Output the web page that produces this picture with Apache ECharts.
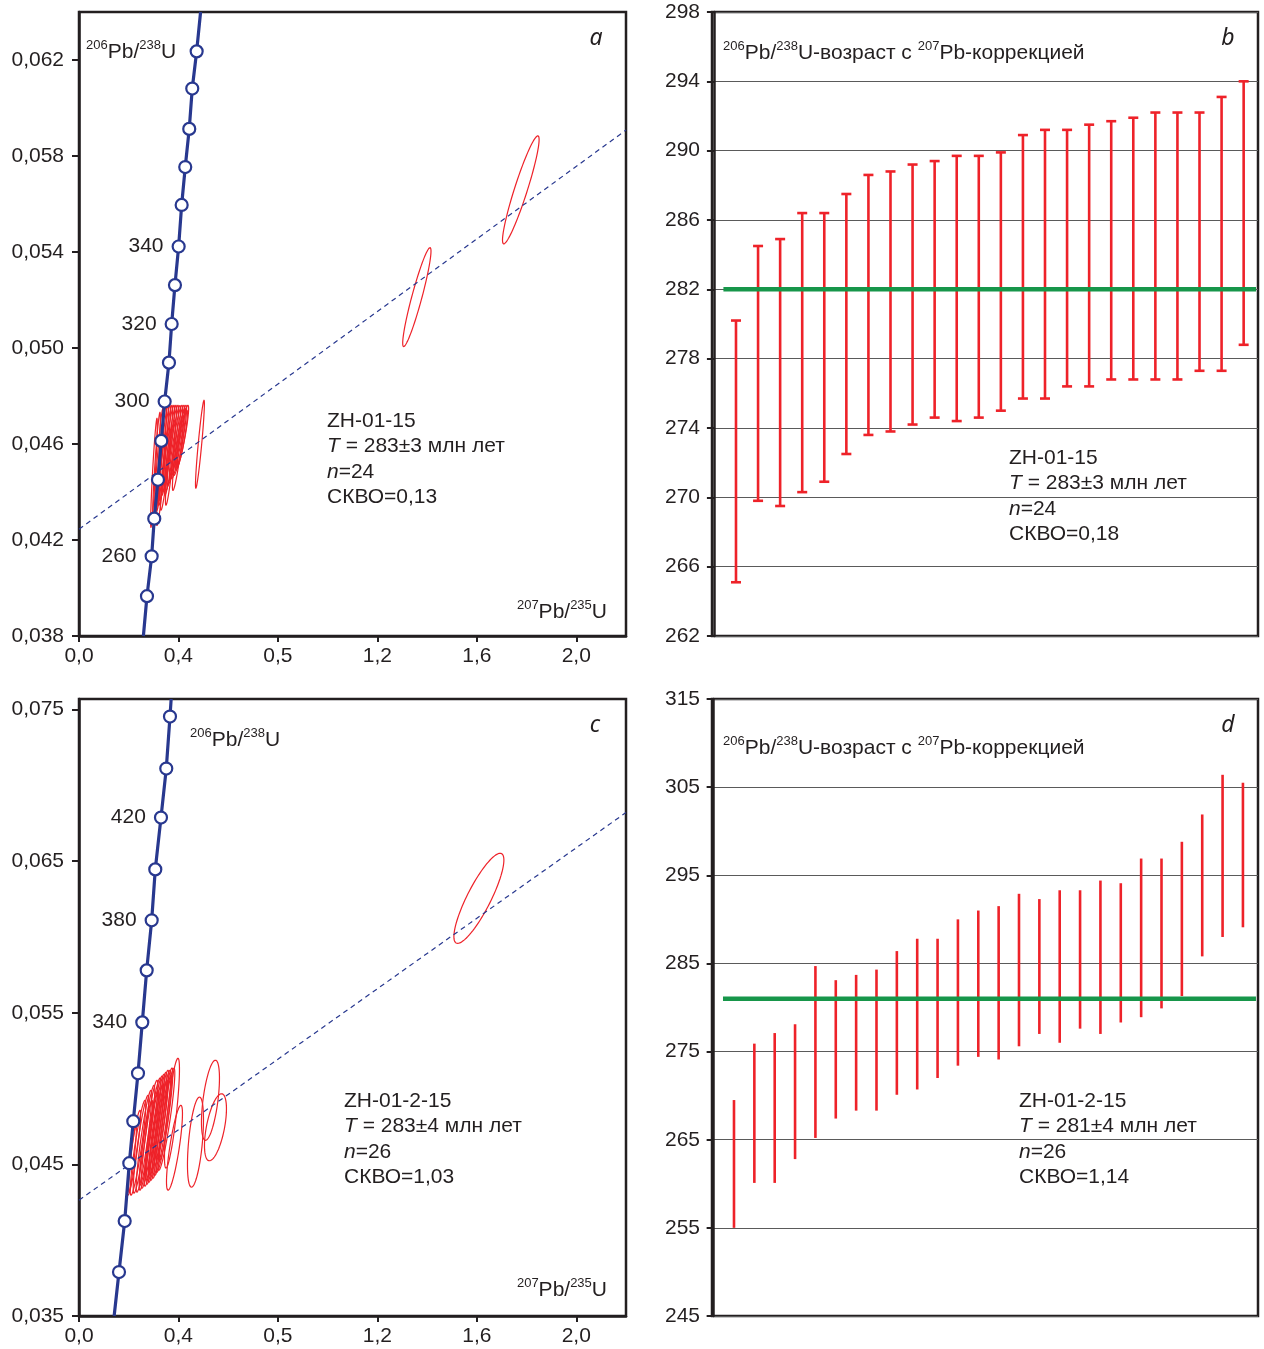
<!DOCTYPE html>
<html><head><meta charset="utf-8">
<script src="https://cdn.jsdelivr.net/npm/echarts@6/dist/echarts.min.js"></script>
<style>html,body{margin:0;padding:0;background:#fff}#chart{width:1264px;height:1349px}</style>
</head><body><div id="chart"></div>
<script>
// ===================== DATA =====================
// x tick labels as printed on the concordia diagrams (same strings in a and c)
const xTickLabels = ['0,0', '0,4', '0,5', '1,2', '1,6', '2,0'];
const xTickValuesA = [0, 0.4, 0.8, 1.2, 1.6, 2.0];
const xTickValuesC = [0, 0.6, 1.2, 1.8, 2.4, 3.0];
const yTickValuesA = [0.038, 0.042, 0.046, 0.050, 0.054, 0.058, 0.062];
const yTickValuesC = [0.035, 0.045, 0.055, 0.065, 0.075];

// Panel a: concordia markers (Ma, 207Pb/235U, 206Pb/238U)
const concAAge = [250, 260, 270, 280, 290, 300, 310, 320, 330, 340, 350, 360, 370, 380, 390];
const concAX = [0.2734, 0.2922, 0.3027, 0.3176, 0.3309, 0.3445, 0.3618, 0.3727, 0.3859, 0.4008, 0.4129, 0.4273, 0.4434, 0.4555, 0.4732];
const concAY = [0.03966, 0.04132, 0.04289, 0.04451, 0.04613, 0.04777, 0.04939, 0.05100, 0.05262, 0.05423, 0.05596, 0.05754, 0.05913, 0.06081, 0.06236];
const concALabelAges = [260, 300, 320, 340];
const concAEnds = [[0.259, 0.038], [0.489, 0.064]];
const discordiaA = [[0, 0.04245], [2.2, 0.05908]];
// ellipses: [centre 207/235, centre 206/238, half-width x, half-height y, rho]
const ellipsesA = [
  [0.3015, 0.04480, 0.0134, 0.00227, 0.9],
  [0.3116, 0.04507, 0.0156, 0.00225, 0.9],
  [0.3216, 0.04526, 0.0179, 0.00223, 0.9],
  [0.3317, 0.04540, 0.0201, 0.00216, 0.9],
  [0.3397, 0.04553, 0.0201, 0.00208, 0.9],
  [0.3457, 0.04563, 0.0223, 0.00198, 0.9],
  [0.3538, 0.04574, 0.0223, 0.00187, 0.9],
  [0.3598, 0.04584, 0.0246, 0.00177, 0.9],
  [0.3678, 0.04574, 0.0246, 0.00187, 0.9],
  [0.3739, 0.04584, 0.0268, 0.00177, 0.9],
  [0.3819, 0.04594, 0.0268, 0.00166, 0.9],
  [0.3899, 0.04605, 0.0268, 0.00156, 0.9],
  [0.3980, 0.04609, 0.0268, 0.00152, 0.9],
  [0.4060, 0.04615, 0.0268, 0.00146, 0.9],
  [0.4141, 0.04626, 0.0268, 0.00135, 0.9],
  [0.3678, 0.04522, 0.0201, 0.00177, 0.9],
  [0.3477, 0.04490, 0.0201, 0.00166, 0.9],
  [0.3980, 0.04563, 0.0223, 0.00156, 0.9],
  [0.3296, 0.04438, 0.0179, 0.00177, 0.9],
  [0.4161, 0.04626, 0.0201, 0.00114, 0.9],
  [0.4101, 0.04624, 0.0179, 0.00125, 0.9],
  [0.4864, 0.04599, 0.0179, 0.00183, 0.92],
  [1.3588, 0.05212, 0.0569, 0.00206, 0.93],
  [1.7769, 0.05659, 0.0736, 0.00225, 0.93]
];

// Panel c
const concCAge = [240, 260, 280, 300, 320, 340, 360, 380, 400, 420, 440, 460];
const concCX = [0.2413, 0.2756, 0.3034, 0.3275, 0.3559, 0.3818, 0.4083, 0.4385, 0.4602, 0.4946, 0.5265, 0.5489];
const concCY = [0.03790, 0.04126, 0.04508, 0.04785, 0.05101, 0.05437, 0.05780, 0.06110, 0.06446, 0.06788, 0.07111, 0.07454];
const concCLabelAges = [340, 380, 420];
const concCEnds = [[0.212, 0.035], [0.556, 0.0757]];
const discordiaC = [[0, 0.04264], [3.3, 0.06821]];
const ellipsesC = [
  [0.3317, 0.04577, 0.0402, 0.00280, 0.9],
  [0.3559, 0.04610, 0.0469, 0.00313, 0.9],
  [0.3739, 0.04633, 0.0469, 0.00323, 0.9],
  [0.3920, 0.04653, 0.0469, 0.00336, 0.9],
  [0.4101, 0.04676, 0.0469, 0.00346, 0.9],
  [0.4252, 0.04699, 0.0503, 0.00356, 0.9],
  [0.4433, 0.04713, 0.0503, 0.00356, 0.9],
  [0.4554, 0.04726, 0.0503, 0.00356, 0.9],
  [0.4674, 0.04739, 0.0503, 0.00356, 0.9],
  [0.4795, 0.04752, 0.0503, 0.00356, 0.9],
  [0.4915, 0.04765, 0.0503, 0.00356, 0.9],
  [0.5036, 0.04775, 0.0503, 0.00346, 0.9],
  [0.5157, 0.04792, 0.0503, 0.00343, 0.9],
  [0.5277, 0.04798, 0.0503, 0.00336, 0.9],
  [0.4403, 0.04693, 0.0402, 0.00297, 0.9],
  [0.4674, 0.04726, 0.0436, 0.00297, 0.9],
  [0.4041, 0.04643, 0.0402, 0.00280, 0.9],
  [0.4946, 0.04775, 0.0402, 0.00280, 0.9],
  [0.3227, 0.04538, 0.0235, 0.00221, 0.9],
  [0.5217, 0.04808, 0.0368, 0.00280, 0.9],
  [0.5609, 0.04838, 0.0452, 0.00362, 0.8],
  [0.5760, 0.04610, 0.0482, 0.00280, 0.8],
  [0.7027, 0.04647, 0.0483, 0.00297, 0.5],
  [0.7931, 0.04923, 0.0543, 0.00264, 0.55],
  [0.8233, 0.04745, 0.0663, 0.00221, 0.55],
  [2.4125, 0.06255, 0.1508, 0.00297, 0.85]
];

// Panel b: 206Pb/238U ages with 207Pb correction (Ma), error bar limits
const bLow  = [265.1, 269.8, 269.5, 270.3, 270.9, 272.5, 273.6, 273.8, 274.2, 274.6, 274.4, 274.6, 275.0, 275.7, 275.7, 276.4, 276.4, 276.8, 276.8, 276.8, 276.8, 277.3, 277.3, 278.8];
const bHigh = [280.2, 284.5, 284.9, 286.4, 286.4, 287.5, 288.6, 288.8, 289.2, 289.4, 289.7, 289.7, 289.9, 290.9, 291.2, 291.2, 291.5, 291.7, 291.9, 292.2, 292.2, 292.2, 293.1, 294.0];
const bMean = 282;
const bMeanSpan = [0.43, 24.56];

// Panel d
const dLow  = [255.0, 260.1, 260.1, 262.8, 265.2, 267.4, 268.3, 268.3, 270.1, 270.7, 272.0, 273.4, 274.4, 274.1, 275.6, 277.0, 276.0, 277.6, 277.0, 278.3, 278.9, 279.9, 281.3, 285.8, 288.0, 289.1];
const dHigh = [269.5, 275.9, 277.1, 278.1, 284.7, 283.1, 283.7, 284.3, 286.4, 287.8, 287.8, 290.0, 291.0, 291.5, 292.9, 292.3, 293.3, 293.3, 294.4, 294.1, 296.9, 296.9, 298.8, 301.9, 306.4, 305.5];
const dMean = 281;
const dMeanSpan = [0.46, 26.64];

// ===================== STYLE =====================
const FONT = "'Liberation Sans', Arial, Helvetica, sans-serif";
const INK = '#231f20';
const BLUE = '#28388f';
const RED = '#ee2229';
const GREEN = '#17964a';

function fmtX(ticks) {
  return function (v) {
    for (let i = 0; i < ticks.length; i++) if (Math.abs(ticks[i] - v) < 1e-9) return xTickLabels[i];
    return '';
  };
}
function fmtY(ticks) {
  return function (v) {
    for (let i = 0; i < ticks.length; i++) if (Math.abs(ticks[i] - v) < 1e-9) return v.toFixed(3).replace('.', ',');
    return '';
  };
}

function ellipseRender(params, api) {
  const cx = api.value(0), cy = api.value(1), sx = api.value(2), sy = api.value(3), r = api.value(4);
  const s = Math.sqrt(1 - r * r);
  const pts = [];
  const N = 90;
  for (let k = 0; k < N; k++) {
    const t = k / N * Math.PI * 2;
    pts.push(api.coord([cx + sx * Math.cos(t), cy + sy * (r * Math.cos(t) + s * Math.sin(t))]));
  }
  return { type: 'polygon', shape: { points: pts }, style: { fill: 'none', stroke: RED, lineWidth: 1.2 } };
}
function errRender(cap) {
  return function (params, api) {
    const x = api.value(0), lo = api.value(1), hi = api.value(2);
    const p1 = api.coord([x, lo]), p2 = api.coord([x, hi]);
    const st = { stroke: RED, lineWidth: 2.6 };
    const ch = [{ type: 'line', shape: { x1: p1[0], y1: p1[1], x2: p2[0], y2: p2[1] }, style: st }];
    if (cap) {
      ch.push({ type: 'line', shape: { x1: p1[0] - cap / 2, y1: p1[1], x2: p1[0] + cap / 2, y2: p1[1] }, style: st });
      ch.push({ type: 'line', shape: { x1: p2[0] - cap / 2, y1: p2[1], x2: p2[0] + cap / 2, y2: p2[1] }, style: st });
    }
    return { type: 'group', children: ch };
  };
}

const gridBase = { show: true, borderColor: INK, borderWidth: 2.5, containLabel: false, outerBoundsMode: 'none', backgroundColor: 'transparent' };
const axisLineSt = { show: true, lineStyle: { color: INK, width: 2.5 } };
const labelSt = { fontSize: 21, fontFamily: FONT, color: INK };

function concXAxis(idx, max, interval, ticks) {
  return {
    gridIndex: idx, type: 'value', min: 0, max: max, interval: interval,
    axisLine: axisLineSt,
    axisTick: { show: true, inside: false, length: 6, lineStyle: { color: INK, width: 2 }, customValues: ticks },
    axisLabel: Object.assign({ margin: 10, formatter: fmtX(ticks), customValues: ticks }, labelSt),
    splitLine: { show: false }
  };
}
function concYAxis(idx, min, max, interval, ticks) {
  return {
    gridIndex: idx, type: 'value', min: min, max: max, interval: interval,
    axisLine: axisLineSt,
    axisTick: { show: true, inside: false, length: 7, lineStyle: { color: INK, width: 2 }, customValues: ticks },
    axisLabel: Object.assign({ margin: 15, formatter: fmtY(ticks), customValues: ticks }, labelSt),
    splitLine: { show: false }
  };
}
function ageYAxis(idx, min, max, interval) {
  return {
    gridIndex: idx, type: 'value', min: min, max: max, interval: interval,
    axisLine: axisLineSt,
    axisTick: { show: true, inside: false, length: 7, lineStyle: { color: INK, width: 2 } },
    axisLabel: Object.assign({ margin: 12, formatter: v => String(Math.round(v)) }, labelSt),
    splitLine: { show: true, lineStyle: { color: '#5a5a5a', width: 1.2 } }
  };
}
function hiddenX(idx, min, max) {
  return { gridIndex: idx, type: 'value', min: min, max: max, show: false, splitLine: { show: false } };
}

function concSeries(axisIdx, xs, ys, ages, labelAges, ends, disc, ells) {
  const pts = xs.map((x, i) => [x, ys[i], ages[i]]);
  const linePts = [ends[0]].concat(pts.map(p => [p[0], p[1]])).concat([ends[1]]);
  return [
    { type: 'custom', xAxisIndex: axisIdx, yAxisIndex: axisIdx, renderItem: ellipseRender, data: ells, clip: true, z: 2, silent: true },
    { type: 'line', xAxisIndex: axisIdx, yAxisIndex: axisIdx, data: disc, symbol: 'none', z: 3, silent: true,
      lineStyle: { color: BLUE, width: 1.2, type: [5, 4] } },
    { type: 'line', xAxisIndex: axisIdx, yAxisIndex: axisIdx, data: linePts, symbol: 'none', z: 4, silent: true,
      lineStyle: { color: BLUE, width: 3.2 } },
    { type: 'scatter', xAxisIndex: axisIdx, yAxisIndex: axisIdx, data: pts, symbol: 'circle', symbolSize: 12, z: 5, silent: true,
      itemStyle: { color: '#ffffff', borderColor: BLUE, borderWidth: 2.2, opacity: 1 },
      label: { show: true, position: 'left', distance: 8, fontSize: 21, fontFamily: FONT, color: INK, opacity: 1,
        formatter: p => labelAges.indexOf(p.value[2]) >= 0 ? String(p.value[2]) : '' } }
  ];
}
function ageSeries(axisIdx, low, high, mean, span, cap) {
  const data = low.map((v, i) => [i + 1, v, high[i]]);
  return [
    { type: 'custom', xAxisIndex: axisIdx, yAxisIndex: axisIdx, renderItem: errRender(cap), data: data, z: 3, silent: true },
    { type: 'line', xAxisIndex: axisIdx, yAxisIndex: axisIdx, data: [[span[0], mean], [span[1], mean]], symbol: 'none', z: 4, silent: true,
      lineStyle: { color: GREEN, width: 4.5 } }
  ];
}

// rich text helpers
const richBase = {
  m: { fontSize: 21, fontFamily: FONT, fill: INK, lineHeight: 25.5 },
  i: { fontSize: 21, fontFamily: FONT, fill: INK, lineHeight: 25.5, fontStyle: 'italic' },
  s: { fontSize: 13, fontFamily: FONT, fill: INK, lineHeight: 14, verticalAlign: 'top' }
};
function txt(x, y, text, align, vAlign) {
  return { type: 'text', x: x, y: y, z: 100, silent: true,
    style: { text: text, rich: richBase, align: align || 'left', verticalAlign: vAlign || 'middle', fontSize: 21, fontFamily: FONT, fill: INK } };
}
function letter(x, y, l) {
  return { type: 'text', x: x, y: y, z: 100, silent: true,
    style: { text: l, fontSize: 23, fontFamily: "'Noto Sans', 'Open Sans', sans-serif", fontStyle: 'italic', fill: INK, align: 'center', verticalAlign: 'middle' } };
}
function block(x, yTop, name, age, n, mswd) {
  return txt(x, yTop, '{m|' + name + '}\n{i|T}{m| = ' + age + ' млн лет}\n{i|n}{m|=' + n + '}\n{m|СКВО=' + mswd + '}', 'left', 'top');
}
const ratio206 = '{s|206}{m|Pb/}{s|238}{m|U}';
const ratio207 = '{s|207}{m|Pb/}{s|235}{m|U}';
const ageHeader = '{s|206}{m|Pb/}{s|238}{m|U-возраст с }{s|207}{m|Pb-коррекцией}';

const option = {
  animation: false,
  backgroundColor: '#ffffff',
  grid: [
    Object.assign({ left: 79, top: 12, width: 547, height: 624 }, gridBase),
    Object.assign({ left: 712, top: 12, width: 546, height: 624 }, gridBase),
    Object.assign({ left: 79, top: 699, width: 547, height: 617 }, gridBase),
    Object.assign({ left: 712, top: 699, width: 546, height: 617 }, gridBase)
  ],
  xAxis: [
    concXAxis(0, 2.2, 0.4, xTickValuesA),
    hiddenX(1, -0.087, 24.65),
    concXAxis(2, 3.3, 0.6, xTickValuesC),
    hiddenX(3, -0.08, 26.74)
  ],
  yAxis: [
    concYAxis(0, 0.038, 0.064, 0.004, yTickValuesA),
    ageYAxis(1, 262, 298, 4),
    concYAxis(2, 0.035, 0.0757, 0.01, yTickValuesC),
    ageYAxis(3, 245, 315, 10)
  ],
  series: []
    .concat(concSeries(0, concAX, concAY, concAAge, concALabelAges, concAEnds, discordiaA, ellipsesA))
    .concat(ageSeries(1, bLow, bHigh, bMean, bMeanSpan, 10))
    .concat(concSeries(2, concCX, concCY, concCAge, concCLabelAges, concCEnds, discordiaC, ellipsesC))
    .concat(ageSeries(3, dLow, dHigh, dMean, dMeanSpan, 0)),
  graphic: [
    txt(86, 52, ratio206),
    txt(607, 612, ratio207, 'right'),
    letter(596, 38, 'a'),
    block(327, 408, 'ZH-01-15', '283±3', '24', '0,13'),
    txt(723, 53, ageHeader),
    letter(1228, 38, 'b'),
    block(1009, 445, 'ZH-01-15', '283±3', '24', '0,18'),
    txt(190, 740, ratio206),
    txt(607, 1290, ratio207, 'right'),
    letter(595, 725, 'c'),
    block(344, 1088, 'ZH-01-2-15', '283±4', '26', '1,03'),
    txt(723, 748, ageHeader),
    letter(1228, 725, 'd'),
    block(1019, 1088, 'ZH-01-2-15', '281±4', '26', '1,14')
  ]
};

const chart = echarts.init(document.getElementById('chart'), null, { renderer: 'canvas' });
chart.setOption(option);
</script>
</body></html>
